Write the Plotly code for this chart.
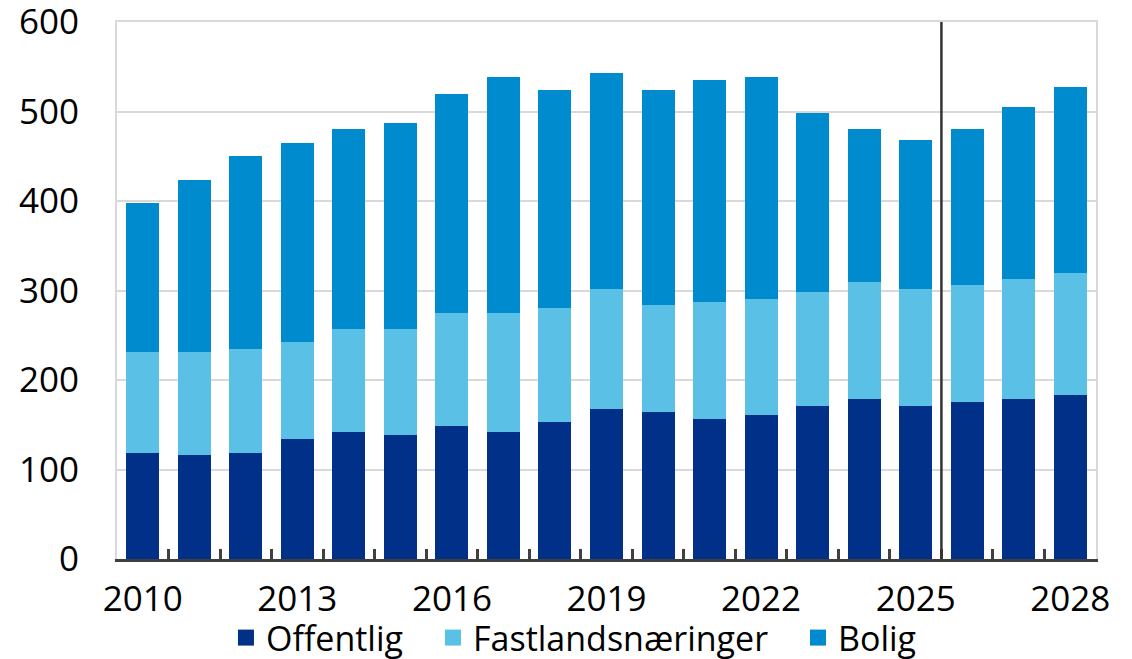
import plotly.graph_objects as go

years = list(range(2010, 2029))
offentlig = [119, 116, 119, 134, 142, 138, 149, 142, 153, 168, 164, 156, 161, 171, 179, 171, 175, 179, 183]
fastland = [112, 115, 116, 108, 115, 119, 126, 133, 127, 134, 120, 131, 130, 127, 130, 131, 131, 134, 137]
bolig = [167, 193, 215, 223, 223, 230, 245, 264, 244, 241, 240, 248, 248, 200, 171, 166, 174, 192, 207]
series_names = ["Offentlig", "Fastlandsnæringer", "Bolig"]
colors = ["#003087", "#5bc0e6", "#008bce"]
x_labels = [2010, 2013, 2016, 2019, 2022, 2025, 2028]
y_ticks = [0, 100, 200, 300, 400, 500, 600]
forecast_divider = 2025.5

FONT = "Open Sans"
fig = go.Figure()
for name, vals, c in zip(series_names, [offentlig, fastland, bolig], colors):
    fig.add_trace(go.Bar(x=years, y=vals, name=name, marker_color=c,
                         marker_line_width=0, showlegend=False))

legend_ids = ["legend", "legend2", "legend3"]
legend_x = [0.1113, 0.3228, 0.6956]
for name, c, lid in zip(series_names, colors, legend_ids):
    fig.add_trace(go.Scatter(x=[None], y=[None], mode="markers", name=name,
                             marker=dict(symbol="square", size=21, color=c),
                             showlegend=True, legend=lid))

bounds = [y - 0.5 for y in years] + [years[-1] + 0.5]
fig.add_trace(go.Scatter(x=[None], y=[None], xaxis="x2", showlegend=False))
fig.add_trace(go.Scatter(x=[None], y=[None], xaxis="x3", showlegend=False))

fig.add_shape(type="line", x0=forecast_divider, x1=forecast_divider, xref="x",
              y0=0, y1=1, yref="paper", line=dict(color="#333333", width=2.5))

xr = [years[0] - 0.5, years[-1] + 0.5]
leg_common = dict(orientation="h", xanchor="left", y=-0.1471, yanchor="middle",
                  font=dict(size=34, family=FONT), itemwidth=30,
                  bgcolor="rgba(0,0,0,0)", borderwidth=0)
fig.update_layout(
    barmode="stack",
    bargap=0.36,
    width=1132, height=659,
    margin=dict(l=117, r=36, t=22, b=100, autoexpand=False),
    plot_bgcolor="white", paper_bgcolor="white",
    font=dict(family=FONT, size=35, color="#000000"),
    xaxis=dict(range=xr, tickvals=x_labels, ticktext=[str(v) for v in x_labels],
               showgrid=False, showline=True, linecolor="#404040", linewidth=3,
               ticks="outside", ticklen=7, tickcolor="rgba(0,0,0,0)",
               tickfont=dict(size=35), zeroline=False,
               automargin=False, ticklabeloverflow="allow"),
    xaxis2=dict(range=xr, overlaying="x", tickvals=bounds, ticks="inside",
                ticklen=10, tickwidth=2.5, tickcolor="#404040",
                showticklabels=False, showgrid=False, showline=False,
                side="bottom", zeroline=False, automargin=False),
    xaxis3=dict(range=xr, overlaying="x", side="top", showline=True,
                linecolor="#d9d9d9", linewidth=2, ticks="",
                showticklabels=False, showgrid=False, zeroline=False,
                automargin=False),
    yaxis=dict(range=[0, 600], tickvals=y_ticks, showgrid=True,
               gridcolor="#d9d9d9", gridwidth=2, showline=True,
               linecolor="#d9d9d9", linewidth=2, mirror=True,
               ticks="outside", ticklen=29, tickcolor="rgba(0,0,0,0)",
               zeroline=False, tickfont=dict(size=35),
               automargin=False, ticklabeloverflow="allow"),
    legend=dict(x=legend_x[0], **leg_common),
    legend2=dict(x=legend_x[1], **leg_common),
    legend3=dict(x=legend_x[2], **leg_common),
)
fig.write_html("out.html", config={"displayModeBar": False},
               post_script="document.body.style.margin='0';")
